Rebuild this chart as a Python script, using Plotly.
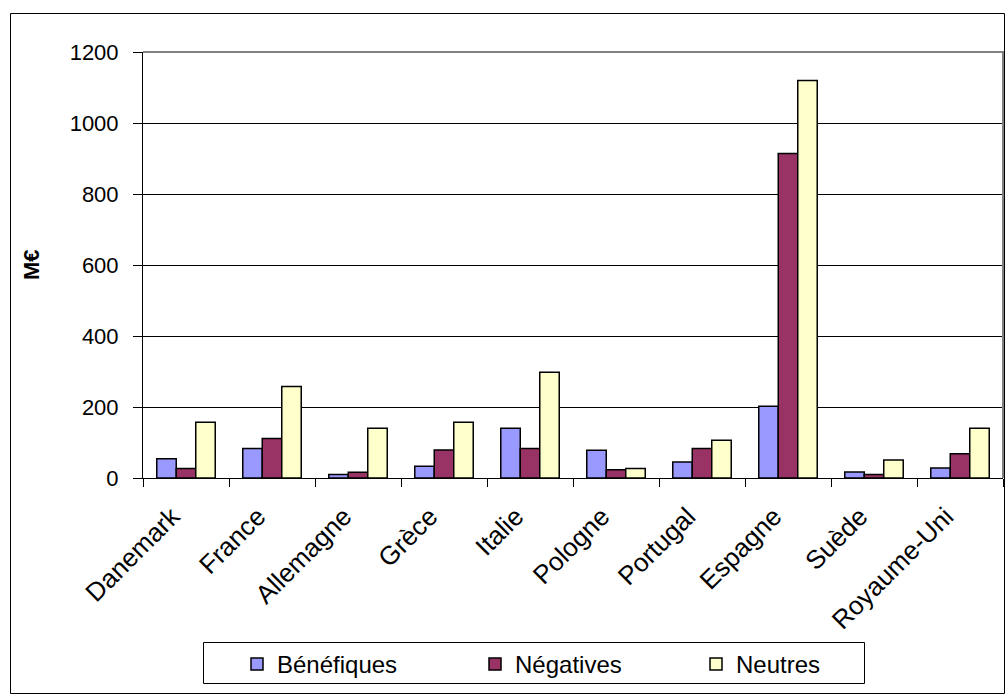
import plotly.graph_objects as go

# Country categories and the three impact series (M€)
pays = ["Danemark", "France", "Allemagne", "Grèce", "Italie",
        "Pologne", "Portugal", "Espagne", "Suède", "Royaume-Uni"]
benefiques = [54, 83, 10, 33, 140, 78, 45, 202, 17, 28]
negatives = [27, 111, 16, 79, 83, 23, 83, 914, 10, 68]
neutres = [157, 258, 140, 157, 298, 27, 106, 1120, 51, 140]
y_ticks = [0, 200, 400, 600, 800, 1000, 1200]

FONT = "Liberation Sans, Arial, sans-serif"
W, H = 1006, 695
L, R, T, B = 143, 3, 52, 217
pw, ph = W - L - R, H - T - B


def px_x(x):
    return (x - L) / pw


def px_y(y):
    return (H - B - y) / ph


series = [("Bénéfiques", benefiques, "#9999FF", "legend", 237),
          ("Négatives", negatives, "#993366", "legend2", 475),
          ("Neutres", neutres, "#FFFFCC", "legend3", 696)]

fig = go.Figure()
legends = {}
for name, vals, col, leg, lx in series:
    fig.add_trace(go.Bar(x=pays, y=vals, name=name, legend=leg,
                         marker=dict(color=col, line=dict(color="black", width=1.5))))
    legends[leg] = dict(orientation="h", x=px_x(lx), xanchor="left",
                        y=px_y(642), yanchor="top",
                        borderwidth=0, bgcolor="rgba(0,0,0,0)",
                        font=dict(family=FONT, size=24, color="black"),
                        itemclick=False, itemdoubleclick=False)

fig.update_layout(
    width=W, height=H,
    margin=dict(l=L, r=R, t=T, b=B),
    paper_bgcolor="white", plot_bgcolor="white",
    barmode="group", bargap=0.32, bargroupgap=0,
    font=dict(family=FONT, size=22, color="black"),
    showlegend=True,
    **legends,
    xaxis=dict(showline=True, linecolor="black", linewidth=1,
               ticks="outside", tickson="boundaries", ticklen=8,
               tickcolor="black", tickangle=-45, showgrid=False,
               ticklabelshift=-14, ticklabelstandoff=12,
               tickfont=dict(family=FONT, size=26)),
    yaxis=dict(range=[0, 1200], tickvals=y_ticks, showline=True,
               linecolor="black", linewidth=1, ticks="outside", ticklen=9,
               tickcolor="black", showgrid=True, gridcolor="black", gridwidth=1,
               zeroline=False, ticklabelstandoff=10,
               tickfont=dict(family=FONT, size=22)),
    annotations=[dict(text="<b>M€</b>", textangle=-90, showarrow=False,
                      xref="paper", yref="paper", x=px_x(31), y=0.5,
                      xanchor="center", yanchor="middle",
                      font=dict(family=FONT, size=22, color="black"))],
    shapes=[
        # plot area border on top and right
        dict(type="path", xref="paper", yref="paper", path="M 0,1 L 1,1 L 1,0",
             line=dict(color="#808080", width=2), layer="above"),
        # chart frame
        dict(type="rect", xref="paper", yref="paper",
             x0=px_x(10.5), x1=px_x(1004.5), y0=px_y(693.5), y1=px_y(13.5),
             line=dict(color="black", width=1), layer="below"),
        # legend box
        dict(type="rect", xref="paper", yref="paper",
             x0=px_x(203.5), x1=px_x(864.5), y0=px_y(683.5), y1=px_y(642.5),
             line=dict(color="black", width=1), layer="below"),
    ],
)

fig.write_html("out.html")
